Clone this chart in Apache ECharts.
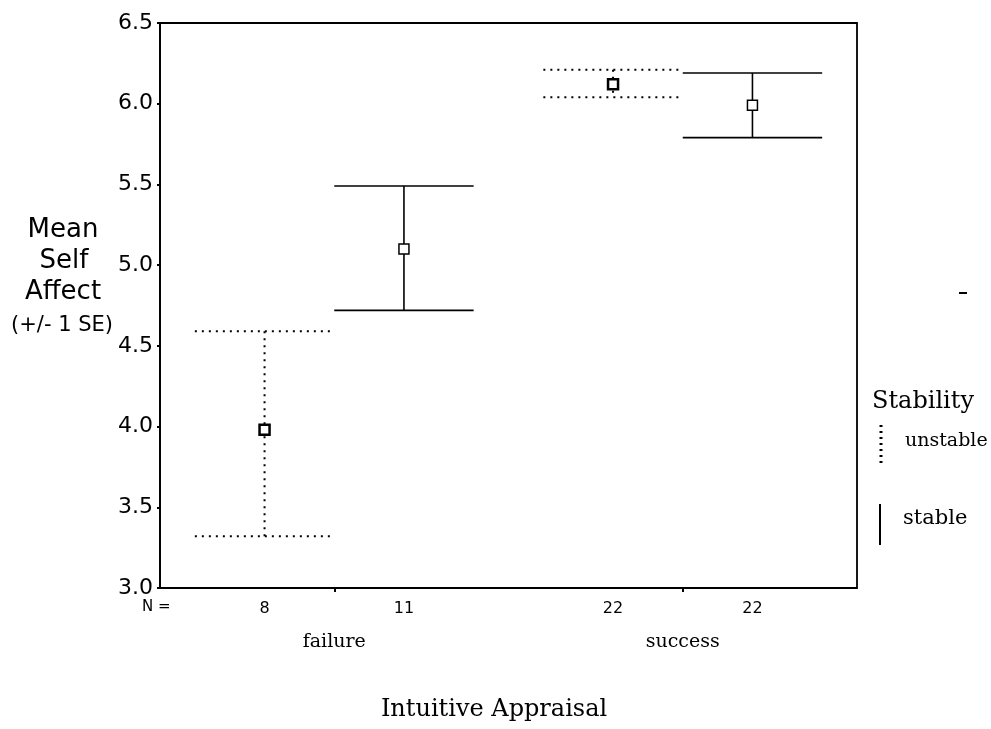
<!DOCTYPE html>
<html>
<head>
<meta charset="utf-8">
<script src="https://cdn.jsdelivr.net/npm/echarts@6/dist/echarts.min.js"></script>
<style>
  html, body { margin: 0; padding: 0; background: #fff; }
  #chart { width: 991px; height: 729px; }
</style>
</head>
<body>
<div id="chart"></div>
<script>
// outcome groups on the x axis
const outcomes = ['failure', 'success'];
const nCounts = [8, 11, 22, 22]; // unstable-failure, stable-failure, unstable-success, stable-success
const yTicks = [3.0, 3.5, 4.0, 4.5, 5.0, 5.5, 6.0, 6.5];

// mean self affect and +/- 1 SE bounds, one value per outcome
const unstableMean = [3.98, 6.12];
const unstableLow = [3.32, 6.04];
const unstableHigh = [4.59, 6.21];
const stableMean = [5.10, 5.99];
const stableLow = [4.72, 5.79];
const stableHigh = [5.49, 6.19];

const serif = '"DejaVu Serif", "Liberation Serif", serif';
const sans = '"DejaVu Sans", Arial, sans-serif';
const OFFSET = 0.2;
const CAP = 0.2;

const chart = echarts.init(document.getElementById('chart'));

function buildData(means, lows, highs, shift) {
  return means.map((m, i) => [i + 0.5 + shift, m, lows[i], highs[i]]);
}

const xPositions = [];
outcomes.forEach((o, i) => {
  xPositions.push(i + 0.5 - OFFSET, i + 0.5 + OFFSET);
});

function makeRenderer(dashed, markerWidth) {
  return function (params, api) {
    const x = api.value(0);
    const pMean = api.coord([x, api.value(1)]);
    const pLow = api.coord([x, api.value(2)]);
    const pHigh = api.coord([x, api.value(3)]);
    const halfCap = api.size([CAP, 0])[0];
    const stroke = {
      stroke: '#000',
      lineWidth: dashed ? 2 : 1.6,
      lineDash: dashed ? [2, 5] : null
    };
    const s = 5;
    return {
      type: 'group',
      children: [
        { type: 'line', shape: { x1: pHigh[0], y1: pHigh[1], x2: pLow[0], y2: pLow[1] }, style: stroke },
        { type: 'line', shape: { x1: pHigh[0] - halfCap, y1: pHigh[1], x2: pHigh[0] + halfCap, y2: pHigh[1] }, style: stroke },
        { type: 'line', shape: { x1: pLow[0] - halfCap, y1: pLow[1], x2: pLow[0] + halfCap, y2: pLow[1] }, style: stroke },
        {
          type: 'rect',
          shape: { x: pMean[0] - s, y: pMean[1] - s, width: 2 * s, height: 2 * s },
          style: { fill: '#fff', stroke: '#000', lineWidth: markerWidth }
        }
      ]
    };
  };
}

function label(text, x, y, size, family, align) {
  return {
    type: 'text',
    x: x,
    y: y,
    style: {
      text: text,
      font: size + 'px ' + family,
      fill: '#000',
      align: align || 'center',
      verticalAlign: 'middle'
    }
  };
}

chart.setOption({
  animation: false,
  grid: {
    left: 160,
    right: 134,
    top: 23,
    bottom: 141,
    show: true,
    borderColor: '#000',
    borderWidth: 1.8
  },
  xAxis: [
    {
      type: 'value',
      min: 0,
      max: 2,
      position: 'bottom',
      axisLine: { show: false },
      axisTick: { show: false },
      splitLine: { show: false },
      axisLabel: {
        customValues: xPositions,
        margin: 13,
        color: '#000',
        fontFamily: sans,
        fontSize: 16,
        formatter: (v) => {
          const idx = xPositions.findIndex((p) => Math.abs(p - v) < 1e-6);
          return idx >= 0 ? String(nCounts[idx]) : '';
        }
      }
    },
    {
      type: 'category',
      data: outcomes,
      position: 'bottom',
      axisLine: { show: false },
      axisTick: { show: true, alignWithLabel: true, length: 4, lineStyle: { color: '#000', width: 2 } },
      axisLabel: { margin: 45, color: '#000', fontFamily: serif, fontSize: 19 }
    }
  ],
  yAxis: {
    type: 'value',
    min: yTicks[0],
    max: yTicks[yTicks.length - 1],
    interval: 0.5,
    axisLine: { show: true, lineStyle: { color: '#000', width: 1.8 } },
    axisTick: { show: true, length: 3, lineStyle: { color: '#000', width: 2 } },
    splitLine: { show: false },
    axisLabel: {
      margin: 7,
      color: '#000',
      fontFamily: sans,
      fontSize: 22,
      formatter: (v) => v.toFixed(1)
    }
  },
  series: [
    {
      name: 'unstable',
      type: 'custom',
      xAxisIndex: 0,
      renderItem: makeRenderer(true, 2.5),
      encode: { x: 0, y: [1, 2, 3] },
      data: buildData(unstableMean, unstableLow, unstableHigh, -OFFSET),
      z: 3
    },
    {
      name: 'stable',
      type: 'custom',
      xAxisIndex: 0,
      renderItem: makeRenderer(false, 1.5),
      encode: { x: 0, y: [1, 2, 3] },
      data: buildData(stableMean, stableLow, stableHigh, OFFSET),
      z: 3
    }
  ],
  graphic: [
    // y axis title
    label('Mean', 63, 230, 26, sans),
    label('Self', 64, 261, 26, sans),
    label('Affect', 63, 292, 26, sans),
    label('(+/- 1 SE)', 62, 326, 21, sans),
    // N = label
    label('N =', 142, 607, 15, sans, 'left'),
    // x axis title
    label('Intuitive Appraisal', 494, 710, 24, serif),
    // legend
    label('Stability', 872, 402, 24, serif, 'left'),
    { type: 'line', shape: { x1: 881, y1: 425, x2: 881, y2: 466 }, style: { stroke: '#000', lineWidth: 3, lineDash: [2, 4] } },
    label('unstable', 905, 441, 19, serif, 'left'),
    { type: 'line', shape: { x1: 880, y1: 504, x2: 880, y2: 545 }, style: { stroke: '#000', lineWidth: 2 } },
    label('stable', 903, 519, 21, serif, 'left'),
    // stray mark at right
    { type: 'line', shape: { x1: 959, y1: 293, x2: 967, y2: 293 }, style: { stroke: '#000', lineWidth: 2 } }
  ]
});

window.addEventListener('resize', () => {
  chart.resize();
});
</script>
</body>
</html>
